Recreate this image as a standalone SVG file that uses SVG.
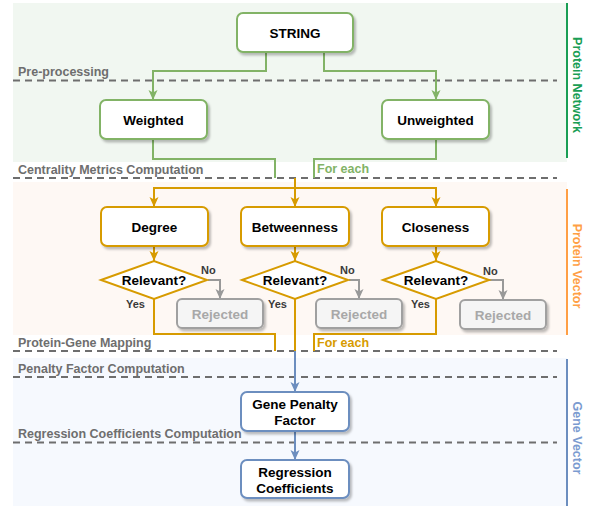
<svg xmlns="http://www.w3.org/2000/svg" width="590" height="506" viewBox="0 0 590 506">
<defs>
<style>
.lbl{font-family:"Liberation Sans",Arial,sans-serif;font-weight:bold;font-size:12.5px;fill:#6e6e6e}
.sep{stroke:#6e6e6e;stroke-width:2;stroke-dasharray:7 5;fill:none}
.node{font-family:"Liberation Sans",Arial,sans-serif;font-weight:bold;font-size:13.5px;fill:#000;text-anchor:middle}
.g{fill:#fff;stroke:#82b366;stroke-width:2}
.o{fill:#fff;stroke:#d79b00;stroke-width:2}
.b{fill:#fff;stroke:#6c8ebf;stroke-width:2}
.rej{fill:#f5f5f5;stroke:#a0a0a0;stroke-width:2}
.rejt{font-family:"Liberation Sans",Arial,sans-serif;font-weight:bold;font-size:13.5px;fill:#a8a8a8;text-anchor:middle}
.yn{font-family:"Liberation Sans",Arial,sans-serif;font-weight:bold;font-size:11px;fill:#3a3a3a}
.cg{stroke:#82b366;stroke-width:2;fill:none}
.co{stroke:#d79b00;stroke-width:2;fill:none}
.cb{stroke:#6c8ebf;stroke-width:2;fill:none}
.cr{stroke:#999;stroke-width:2;fill:none}
.side{font-family:"Liberation Sans",Arial,sans-serif;font-weight:bold;font-size:12.5px;text-anchor:middle}
</style>
<marker id="ag" markerUnits="userSpaceOnUse" markerWidth="10" markerHeight="10" refX="10" refY="5" orient="auto"><path d="M0,0.5 L10,5 L0,9.5 L2.5,5 z" fill="#82b366"/></marker>
<marker id="ao" markerUnits="userSpaceOnUse" markerWidth="10" markerHeight="10" refX="10" refY="5" orient="auto"><path d="M0,0.5 L10,5 L0,9.5 L2.5,5 z" fill="#d79b00"/></marker>
<marker id="ab" markerUnits="userSpaceOnUse" markerWidth="10" markerHeight="10" refX="10" refY="5" orient="auto"><path d="M0,0.5 L10,5 L0,9.5 L2.5,5 z" fill="#6c8ebf"/></marker>
<marker id="ar" markerUnits="userSpaceOnUse" markerWidth="10" markerHeight="10" refX="10" refY="5" orient="auto"><path d="M0,0.5 L10,5 L0,9.5 L2.5,5 z" fill="#999"/></marker>
<filter id="sh" x="-10%" y="-10%" width="130%" height="140%"><feDropShadow dx="2" dy="2.5" stdDeviation="1" flood-color="#000" flood-opacity="0.25"/></filter>
</defs>

<g id="backgrounds">
<rect x="13" y="3" width="554" height="159" fill="#f1f7f1"/>
<rect x="13" y="182" width="554" height="153" fill="#fef8f4"/>
<rect x="13" y="358" width="554" height="148" fill="#f6f9fe"/>
<line x1="567" y1="3" x2="567" y2="158" stroke="#1a9e55" stroke-width="2"/>
<line x1="567" y1="189" x2="567" y2="335" stroke="#ff9f45" stroke-width="2"/>
<line x1="567" y1="359" x2="567" y2="506" stroke="#6c8ebf" stroke-width="2"/>
<text class="side" fill="#1a9e55" transform="translate(577,85) rotate(90)" dominant-baseline="central">Protein Network</text>
<text class="side" fill="#ff9f45" transform="translate(577,266) rotate(90)" dominant-baseline="central">Protein Vector</text>
<text class="side" fill="#7b9bd0" transform="translate(577,438) rotate(90)" dominant-baseline="central">Gene Vector</text>
</g>

<g id="stages">
<line class="sep" x1="13" y1="80.5" x2="557" y2="80.5"/>
<text class="lbl" x="18" y="76">Pre-processing</text>
<line class="sep" x1="13" y1="178" x2="557" y2="178"/>
<text class="lbl" x="18" y="174">Centrality Metrics Computation</text>
<line class="sep" x1="13" y1="351" x2="557" y2="351"/>
<text class="lbl" x="18" y="347">Protein-Gene Mapping</text>
<line class="sep" x1="13" y1="377" x2="557" y2="377"/>
<text class="lbl" x="18" y="373">Penalty Factor Computation</text>
<line class="sep" x1="13" y1="442.5" x2="557" y2="442.5"/>
<text class="lbl" x="18" y="438">Regression Coefficients Computation</text>
</g>

<g id="connectors">
<path class="cg" d="M266,52 V71 H153 V100" marker-end="url(#ag)"/>
<path class="cg" d="M324,52 V71 H436 V100" marker-end="url(#ag)"/>
<path class="cg" d="M153,139 V159 H275 V178"/>
<path class="cg" d="M436,139 V159 H314 V178"/>
<text x="317" y="173" font-family="Liberation Sans,Arial,sans-serif" font-weight="bold" font-size="12.5" fill="#82b366">For each</text>
<path class="co" d="M295,178 V207" marker-end="url(#ao)"/>
<path class="co" d="M154,207 V188 H436 V207" marker-end="url(#ao)"/>
<path class="co" d="M154,188 V207" marker-end="url(#ao)"/>
<path class="co" d="M154,246 V261" marker-end="url(#ao)"/>
<path class="co" d="M295,246 V261" marker-end="url(#ao)"/>
<path class="co" d="M436,246 V261" marker-end="url(#ao)"/>
<path class="cr" d="M208,280 H220 V299" marker-end="url(#ar)"/>
<path class="cr" d="M349,280 H359 V299" marker-end="url(#ar)"/>
<path class="cr" d="M489,280 H503 V300" marker-end="url(#ar)"/>
<text class="yn" x="201" y="274">No</text>
<text class="yn" x="340" y="274">No</text>
<text class="yn" x="483" y="275">No</text>
<text class="yn" x="126" y="308">Yes</text>
<text class="yn" x="268" y="308">Yes</text>
<text class="yn" x="411" y="308">Yes</text>
<path class="co" d="M154,299 V334 H275 V351"/>
<path class="co" d="M436,299 V334 H314 V351"/>
<path class="co" d="M295,299 V351"/>
<text x="317" y="347" font-family="Liberation Sans,Arial,sans-serif" font-weight="bold" font-size="12.5" fill="#d79b00">For each</text>
<path class="cb" d="M295,351 V392" marker-end="url(#ab)"/>
<path class="cb" d="M295,431 V460" marker-end="url(#ab)"/>
</g>

<g id="string"><rect class="g" x="237" y="13" width="116" height="39" rx="6" filter="url(#sh)"/><text class="node" x="295" y="37.5">STRING</text></g>
<g id="weighted"><rect class="g" x="100" y="100" width="107" height="39" rx="6" filter="url(#sh)"/><text class="node" x="153.5" y="124.5">Weighted</text></g>
<g id="unweighted"><rect class="g" x="382" y="100" width="107" height="39" rx="6" filter="url(#sh)"/><text class="node" x="435.5" y="124.5">Unweighted</text></g>

<g id="degree"><rect class="o" x="101" y="207" width="107" height="39" rx="6" filter="url(#sh)"/><text class="node" x="154.5" y="231.5">Degree</text></g>
<g id="betweenness"><rect class="o" x="241" y="207" width="108" height="39" rx="6" filter="url(#sh)"/><text class="node" x="295" y="231.5">Betweenness</text></g>
<g id="closeness"><rect class="o" x="382" y="207" width="107" height="39" rx="6" filter="url(#sh)"/><text class="node" x="435.5" y="231.5">Closeness</text></g>

<g id="relevant1"><polygon class="o" points="101,280 154,261 207,280 154,299"/><text class="node" x="154" y="285">Relevant?</text></g>
<g id="relevant2"><polygon class="o" points="242,280 295,261 348,280 295,299"/><text class="node" x="295" y="285">Relevant?</text></g>
<g id="relevant3"><polygon class="o" points="383,280 436,261 489,280 436,299"/><text class="node" x="436" y="285">Relevant?</text></g>

<g id="rejected1"><rect class="rej" x="177" y="299" width="86" height="29" rx="5" filter="url(#sh)"/><text class="rejt" x="220" y="318.5">Rejected</text></g>
<g id="rejected2"><rect class="rej" x="316" y="299" width="86" height="29" rx="5" filter="url(#sh)"/><text class="rejt" x="359" y="318.5">Rejected</text></g>
<g id="rejected3"><rect class="rej" x="460" y="300" width="86" height="29" rx="5" filter="url(#sh)"/><text class="rejt" x="503" y="319.5">Rejected</text></g>

<g id="gene-penalty-factor"><rect class="b" x="241" y="392" width="108" height="39" rx="6" filter="url(#sh)"/><text class="node" x="295" y="408.5">Gene Penalty</text><text class="node" x="295" y="424.5">Factor</text></g>
<g id="regression-coefficients"><rect class="b" x="241" y="460" width="108" height="38" rx="6" filter="url(#sh)"/><text class="node" x="295" y="476.5">Regression</text><text class="node" x="295" y="492.5">Coefficients</text></g>
</svg>
